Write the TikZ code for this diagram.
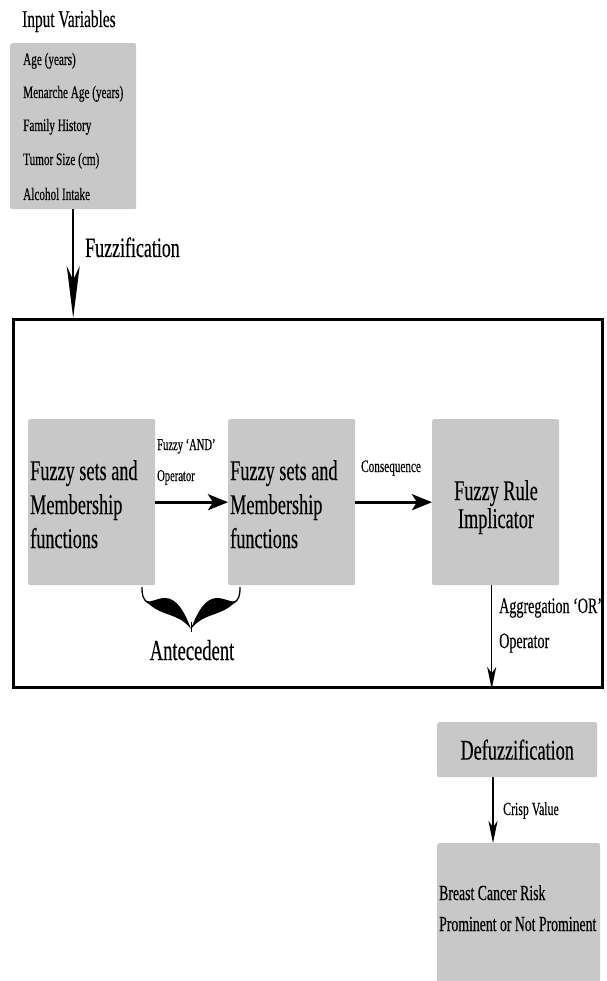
\documentclass[tikz,border=0pt]{standalone}
\usepackage{fontspec}
\setmainfont[FakeStretch=0.64,FakeBold=0.3]{Liberation Serif}
\usetikzlibrary{arrows.meta,calc}
\definecolor{boxgray}{RGB}{200,200,200}
\begin{document}
\begin{tikzpicture}[x=1pt,y=-1pt,
  graybox/.style={fill=boxgray, rounded corners=2pt, inner sep=0pt, anchor=north west},
  bigtxt/.style={font=\fontsize{28.5}{34}\selectfont},
  lbl/.style={inner sep=0pt, anchor=base west},
  ctr/.style={inner sep=0pt, anchor=base},
  fuzarr/.style={line width=2pt, -{Stealth[length=52pt,width=13pt,inset=14pt]}},
  harr/.style={line width=3pt, -{Stealth[length=20pt,width=16pt,inset=5pt]}},
  varr/.style={line width=1.5pt, -{Stealth[length=22pt,width=9pt,inset=6pt]}}]
\useasboundingbox (0,0) rectangle (606,981);

% title and input box
\node[lbl, font=\fontsize{24}{28}\selectfont] (title) at (22,27) {Input Variables};
\node[graybox, minimum width=126pt, minimum height=166pt] (inbox) at (10,43) {};
\node[lbl, font=\fontsize{17.5}{20}\selectfont] (in1) at (23,65) {Age (years)};
\node[lbl, font=\fontsize{17.5}{20}\selectfont] (in2) at (23,98) {Menarche Age (years)};
\node[lbl, font=\fontsize{17.5}{20}\selectfont] (in3) at (23,131) {Family History};
\node[lbl, font=\fontsize{17.5}{20}\selectfont] (in4) at (23,165) {Tumor Size (cm)};
\node[lbl, font=\fontsize{17.5}{20}\selectfont] (in5) at (23,200) {Alcohol Intake};

% frame
\node[draw, line width=3pt, minimum width=589pt, minimum height=368pt, anchor=north west, inner sep=0pt] (frame) at (12,318) {};

% fuzzification
\draw[fuzarr] (inbox.south) -- (inbox.south |- frame.north);
\node[lbl, font=\fontsize{28}{34}\selectfont] (fuzlbl) at (85,257) {Fuzzification};

% three boxes
\node[graybox, minimum width=127pt, minimum height=166pt] (box1) at (28,419) {};
\node[graybox, minimum width=127pt, minimum height=166pt] (box2) at (228,419) {};
\node[graybox, minimum width=127pt, minimum height=166pt] (box3) at (432,419) {};
\node[lbl, bigtxt] (b1a) at (30,480) {Fuzzy sets and};
\node[lbl, bigtxt] (b1b) at (30,514) {Membership};
\node[lbl, bigtxt] (b1c) at (30,548) {functions};
\node[lbl, bigtxt] (b2a) at (230,480) {Fuzzy sets and};
\node[lbl, bigtxt] (b2b) at (230,514) {Membership};
\node[lbl, bigtxt] (b2c) at (230,548) {functions};
\node[ctr, bigtxt] (b3a) at (496,500) {Fuzzy Rule};
\node[ctr, bigtxt] (b3b) at (496,528) {Implicator};

\draw[harr] (box1.east) -- (box2.west);
\draw[harr] (box2.east) -- (box3.west);
\node[lbl, font=\fontsize{16.5}{20}\selectfont] (and1) at (157,450) {Fuzzy ‘AND’};
\node[lbl, font=\fontsize{16.5}{20}\selectfont] (and2) at (157,481) {Operator};
\node[lbl, font=\fontsize{17.5}{20}\selectfont] (cons) at (361,472) {Consequence};

% brace
\fill (146,601) .. controls (160,617) and (178,612) .. (191,629)
      .. controls (184,610) and (176,598) .. (165,598)
      .. controls (157,598) and (151,603) .. (146,601) -- cycle;
\draw[line width=1.3pt] (142,587) .. controls (142,596) and (143,599) .. (148,603);
\fill (236,601) .. controls (222,617) and (204,612) .. (191,629)
      .. controls (198,610) and (206,598) .. (217,598)
      .. controls (225,598) and (231,603) .. (236,601) -- cycle;
\draw[line width=1.3pt] (240,587) .. controls (240,596) and (239,599) .. (234,603);
\draw[line width=1pt] (191,622) -- (191,632);
\node[ctr, font=\fontsize{29}{34}\selectfont] (ante) at (192,660) {Antecedent};

% aggregation
\draw[varr] ([xshift=-4pt]box3.south) -- ([xshift=-4pt]box3.south |- frame.south);
\node[lbl, font=\fontsize{22}{26}\selectfont] (agg1) at (499,613) {Aggregation ‘OR’};
\node[lbl, font=\fontsize{22}{26}\selectfont] (agg2) at (499,648) {Operator};

% defuzzification
\node[graybox, font=\fontsize{28.5}{34}\selectfont, minimum width=160pt, minimum height=55pt] (defuzz) at (437,722) {Defuzzification};
\node[graybox, minimum width=163pt, minimum height=150pt] (result) at (437,843) {};
\node[lbl, font=\fontsize{21.5}{24}\selectfont] (res1) at (439,900) {Breast Cancer Risk};
\node[lbl, font=\fontsize{21.5}{24}\selectfont] (res2) at (439,931) {Prominent or Not Prominent};
\draw[varr] ([xshift=56pt]defuzz.south west) -- ([xshift=56pt]result.north west);
\node[lbl, font=\fontsize{18.5}{22}\selectfont] (crisp) at (503,815) {Crisp Value};
\end{tikzpicture}
\end{document}
